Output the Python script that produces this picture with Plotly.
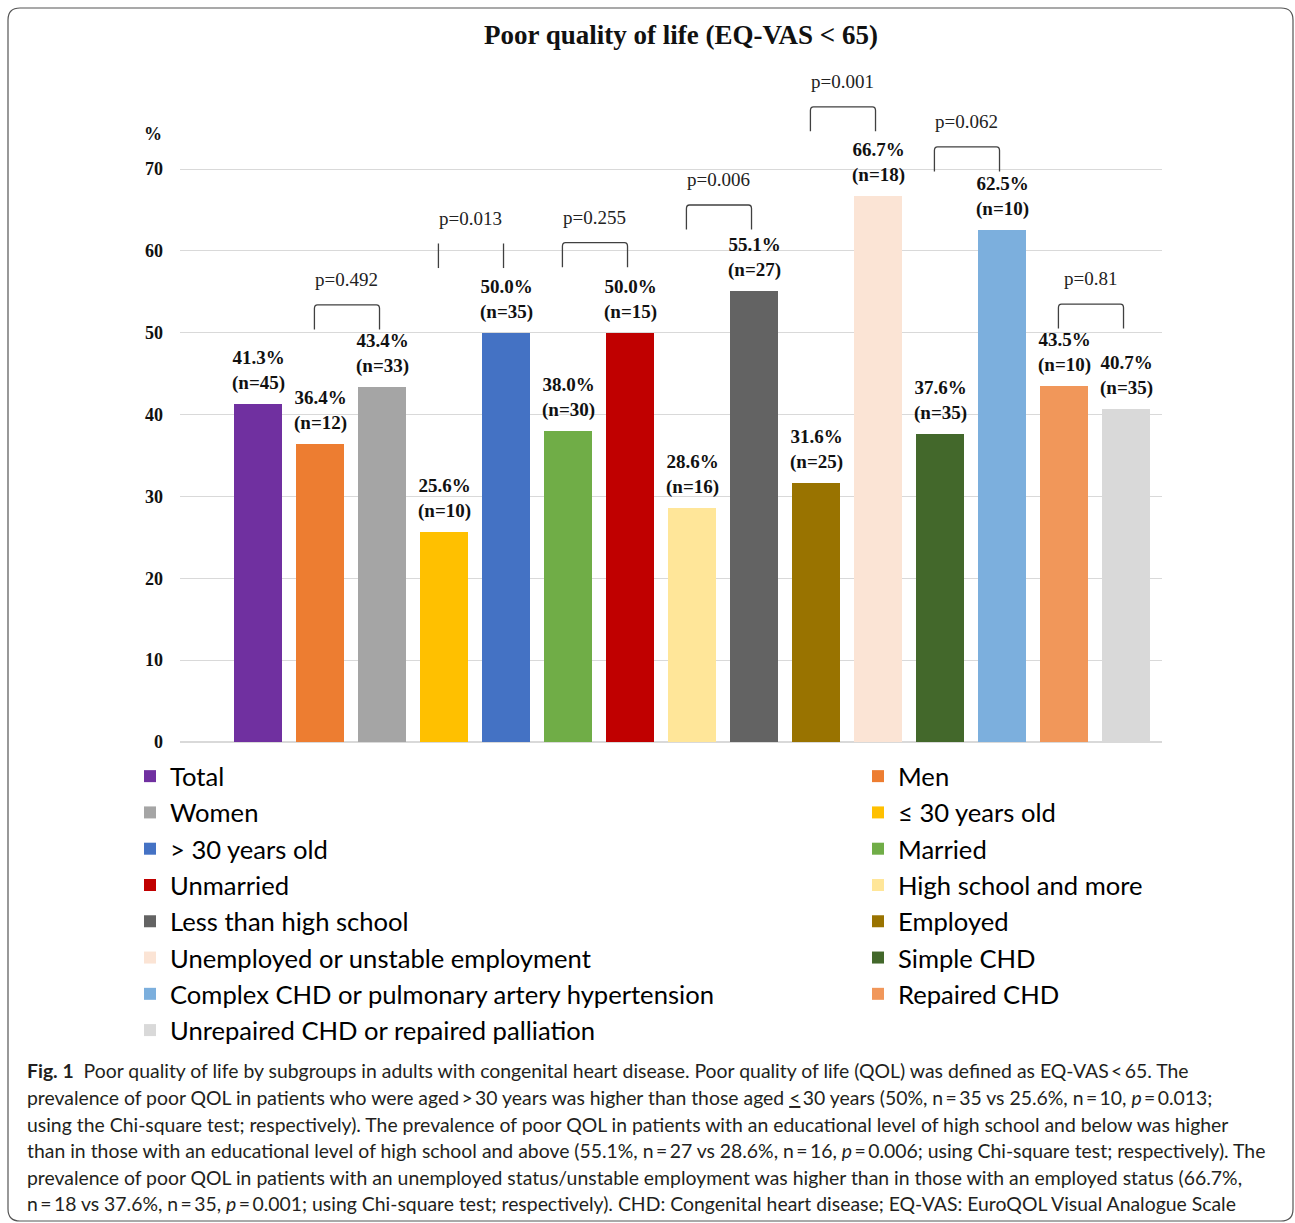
import plotly.graph_objects as go

# ---- data -------------------------------------------------------------
categories = [
    "Total", "Men", "Women", "≤ 30 years old", "> 30 years old", "Married",
    "Unmarried", "High school and more", "Less than high school", "Employed",
    "Unemployed or unstable employment", "Simple CHD",
    "Complex CHD or pulmonary artery hypertension", "Repaired CHD",
    "Unrepaired CHD or repaired palliation",
]
prevalence = [41.3, 36.4, 43.4, 25.6, 50.0, 38.0, 50.0, 28.6, 55.1, 31.6,
              66.7, 37.6, 62.5, 43.5, 40.7]
counts = [45, 12, 33, 10, 35, 30, 15, 16, 27, 25, 18, 35, 10, 10, 35]
y_ticks = [0, 10, 20, 30, 40, 50, 60, 70]

# pairwise comparisons: (first bar, second bar, p label, bracket level in %)
comparisons = [
    (1, 2, "p=0.492", 53.4),
    (3, 4, "p=0.013", 60.9),
    (5, 6, "p=0.255", 61.0),
    (7, 8, "p=0.006", 65.6),
    (9, 10, "p=0.001", 77.6),
    (11, 12, "p=0.062", 72.7),
    (13, 14, "p=0.81", 53.5),
]
open_top = {"p=0.013"}  # this bracket is drawn with its two legs only

colors = ["#7030A0", "#ED7D31", "#A5A5A5", "#FFC000", "#4472C4", "#70AD47",
          "#C00000", "#FFE699", "#636363", "#997300", "#FBE4D5", "#43682B",
          "#7CAFDD", "#F1975A", "#D9D9D9"]

caption_lines = [
    "<b>Fig. 1</b>  Poor quality of life by subgroups in adults with congenital heart disease. "
    "Poor quality of life (QOL) was defined as EQ-VAS\u2009&lt;\u200965. The",
    "prevalence of poor QOL in patients who were aged\u2009&gt;\u200930 years was higher than those aged "
    "<span style='text-decoration:underline'>&lt;</span>\u200930 years (50%, n\u2009=\u200935 vs 25.6%, "
    "n\u2009=\u200910, <i>p</i>\u2009=\u20090.013;",
    "using the Chi-square test; respectively). The prevalence of poor QOL in patients with an "
    "educational level of high school and below was higher",
    "than in those with an educational level of high school and above (55.1%, n\u2009=\u200927 vs 28.6%, "
    "n\u2009=\u200916, <i>p</i>\u2009=\u20090.006; using Chi-square test; respectively). The",
    "prevalence of poor QOL in patients with an unemployed status/unstable employment was higher "
    "than in those with an employed status (66.7%,",
    "n\u2009=\u200918 vs 37.6%, n\u2009=\u200935, <i>p</i>\u2009=\u20090.001; using Chi-square test; "
    "respectively). CHD: Congenital heart disease; EQ-VAS: EuroQOL Visual Analogue Scale",
]

# ---- page geometry (pixels) -----------------------------------------
W, H = 1295, 1223
PL, PR, PT, PB = 180, 1162, 60, 742        # plot box edges
UNIT_Y = (742 - 169) / 70.0                 # pixels per percentage point
UNIT_X = 62.0                               # pixels per bar slot
X0 = 258.0                                  # centre of first bar


def fx(xp):
    return (xp - PL) / (PR - PL)


def fy(yp):
    return (PB - yp) / (PB - PT)


serif = "Liberation Serif"
sans = "Lato"

fig = go.Figure()

left_col = list(range(0, 15, 2))
for i, (name, val, col) in enumerate(zip(categories, prevalence, colors)):
    fig.add_trace(go.Bar(
        x=[i], y=[val], name=name, width=0.78,
        marker=dict(color=col, line=dict(width=0)),
        legend="legend" if i in left_col else "legend2",
        legendgroup=f"g{i}",
        hoverinfo="skip",
    ))

annotations = []
for i, (val, n) in enumerate(zip(prevalence, counts)):
    annotations.append(dict(
        x=i, y=val, xref="x", yref="y", yanchor="bottom", yshift=8,
        text=f"{val:.1f}%<br>(n={n})", showarrow=False,
        font=dict(family=serif, size=19, color="#111111", weight="bold"),
    ))

shapes = []
for a, b, label, level in comparisons:
    xl, xr = a - 0.09, b - 0.04
    y_leg = level - 3.0
    dx, dy = 0.05, 0.45
    if label in open_top:
        for xs in (xl, xr):
            shapes.append(dict(type="path", xref="x", yref="y",
                               path=f"M{xs},{y_leg} L{xs},{level}",
                               line=dict(color="#404040", width=1.3)))
    else:
        path = (f"M{xl},{y_leg} L{xl},{level - dy} Q{xl},{level} {xl + dx},{level} "
                f"L{xr - dx},{level} Q{xr},{level} {xr},{level - dy} L{xr},{y_leg}")
        shapes.append(dict(type="path", xref="x", yref="y", path=path,
                           line=dict(color="#404040", width=1.3)))
    annotations.append(dict(
        x=(xl + xr) / 2, y=level + 3.1, xref="x", yref="y", yanchor="middle",
        text=label, showarrow=False,
        font=dict(family=serif, size=19, color="#222222"),
    ))

# axis unit marker
annotations.append(dict(
    x=fx(153), y=fy(134), xref="paper", yref="paper", xanchor="center",
    yanchor="middle", text="%", showarrow=False,
    font=dict(family=serif, size=18, color="#111111", weight="bold"),
))

# caption
cap_y = [1070, 1097, 1124, 1150, 1177, 1203]
for line, yp in zip(caption_lines, cap_y):
    annotations.append(dict(
        x=fx(25), y=fy(yp), xref="paper", yref="paper", xanchor="left",
        yanchor="middle", text=line, showarrow=False, align="left",
        font=dict(family=sans, size=19.4, color="#231F20"),
    ))

# rounded frame round the whole figure
bx0, by0, bx1, by1, r = 8, 8, 1293, 1221, 12
frame = (f"M{fx(bx0 + r)},{fy(by0)} L{fx(bx1 - r)},{fy(by0)} "
         f"Q{fx(bx1)},{fy(by0)} {fx(bx1)},{fy(by0 + r)} "
         f"L{fx(bx1)},{fy(by1 - r)} Q{fx(bx1)},{fy(by1)} {fx(bx1 - r)},{fy(by1)} "
         f"L{fx(bx0 + r)},{fy(by1)} Q{fx(bx0)},{fy(by1)} {fx(bx0)},{fy(by1 - r)} "
         f"L{fx(bx0)},{fy(by0 + r)} Q{fx(bx0)},{fy(by0)} {fx(bx0 + r)},{fy(by0)} Z")
shapes.append(dict(type="path", xref="paper", yref="paper", path=frame,
                   line=dict(color="#555555", width=1.2), layer="above"))

legend_common = dict(
    xref="paper", yref="paper", xanchor="left", yanchor="top",
    orientation="v", bgcolor="rgba(0,0,0,0)", borderwidth=0,
    font=dict(family=sans, size=25.6, color="#000000"),
    tracegroupgap=0.5, traceorder="normal",
    itemclick=False, itemdoubleclick=False,
)

fig.update_layout(
    width=W, height=H,
    margin=dict(l=PL, r=W - PR, t=PT, b=H - PB, pad=0, autoexpand=False),
    paper_bgcolor="white", plot_bgcolor="white",
    barmode="overlay", bargap=0,
    showlegend=True,
    hovermode=False,
    title=dict(
        text="<b>Poor quality of life (EQ-VAS < 65)</b>",
        x=681 / W, y=1 - 35 / H, xref="container", yref="container",
        xanchor="center", yanchor="middle",
        font=dict(family=serif, size=27, color="#111111"),
    ),
    xaxis=dict(
        range=[(PL - X0) / UNIT_X, (PR - X0) / UNIT_X],
        showticklabels=False, showgrid=False, zeroline=False, showline=False,
        ticks="", fixedrange=True,
    ),
    yaxis=dict(
        range=[0, (PB - PT) / UNIT_Y],
        tickvals=y_ticks, ticktext=[str(t) for t in y_ticks],
        showgrid=True, gridcolor="#D9D9D9", gridwidth=1,
        zeroline=True, zerolinecolor="#D9D9D9", zerolinewidth=1.5,
        showline=False, ticks="", ticklabelstandoff=16,
        tickfont=dict(family=serif, size=18, color="#111111", weight="bold"),
        fixedrange=True,
    ),
    legend=dict(x=fx(130), y=fy(753), **legend_common),
    legend2=dict(x=fx(858), y=fy(753), **legend_common),
    annotations=annotations,
    shapes=shapes,
)

fig.write_html("out.html")
